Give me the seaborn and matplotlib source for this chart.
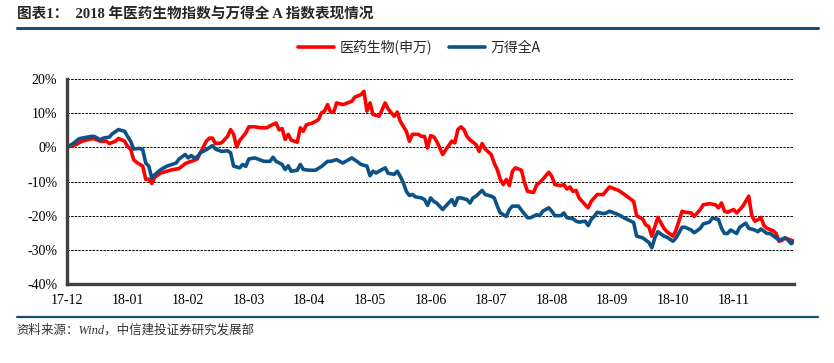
import matplotlib
matplotlib.use("Agg")
import matplotlib.pyplot as plt
import matplotlib.lines as mlines
import seaborn as sns
import pandas as pd

# trading-day index since 2017-12-29 and cumulative return (%)
red_day = [0, 3, 5, 8, 9, 11, 13, 14, 16, 17, 19, 20, 21, 22, 23, 25, 26, 27, 28, 29, 31, 33, 35, 37, 38, 39, 40,
           42, 43, 44, 46, 47, 48, 49, 51, 53, 54, 55, 56, 57, 59, 60, 62, 64, 66, 67, 69, 70, 71, 72, 73, 74, 76,
           77, 78, 79, 81, 83, 84, 85, 86, 87, 88, 89, 91, 92, 94, 95, 97, 98, 99, 100, 101, 103, 104, 105, 106,
           108, 109, 110, 112, 113, 114, 116, 117, 118, 119, 120, 121, 122, 124, 125, 127, 128, 129, 130, 131,
           132, 133, 135, 136, 137, 138, 140, 141, 142, 143, 144, 145, 146, 147, 148, 150, 151, 152, 154, 155,
           156, 157, 159, 160, 161, 163, 164, 165, 166, 167, 168, 169, 171, 172, 173, 174, 175, 177, 179, 182,
           184, 187, 188, 190, 191, 192, 193, 194, 195, 197, 198, 200, 201, 203, 204, 206, 207, 209, 210, 212,
           214, 215, 216, 217, 218, 220, 221, 223, 225, 226, 227, 228, 229, 230, 231, 233, 234, 235, 236, 237,
           239, 240]
red_ret = [0, 0.8, 1.8, 2.5, 2.5, 1.8, 1.8, 1.1, 1.8, 2.6, 1.8, 0.3, -0.5, -3.6, -4.4, -5.5, -9.4, -9.3, -10.6,
           -8.7, -7.5, -7.0, -6.5, -6.2, -5.5, -4.8, -4.4, -3.8, -3.4, -1.6, 1.8, 2.7, 2.7, 1.1, 1.3, 3.2, 5.2,
           3.8, 0.1, 2.0, 4.2, 6.0, 6.0, 5.7, 5.7, 6.3, 7.1, 5.1, 5.5, 2.3, 3.8, 2.1, 1.5, 5.7, 4.7, 6.6, 7.1,
           8.1, 10.1, 10.6, 12.5, 10.3, 10.3, 13.0, 12.5, 12.8, 13.5, 14.7, 15.4, 16.4, 10.6, 13.0, 9.6, 9.1,
           11.0, 13.0, 11.2, 9.1, 10.3, 7.6, 4.7, 1.8, 3.8, 3.8, 3.2, 3.2, -0.2, 3.4, 3.1, 1.8, -2.1, -0.7, 1.8,
           1.3, 5.2, 6.0, 5.2, 3.2, 2.2, 0.8, -1.2, 1.1, -0.5, -2.1, -4.6, -6.5, -9.4, -10.9, -9.4, -11.2, -7.0,
           -6.0, -6.7, -10.4, -12.9, -13.2, -11.0, -10.3, -9.4, -7.3, -8.5, -10.9, -11.2, -10.9, -12.2, -11.6,
           -12.9, -12.6, -14.8, -16.8, -17.7, -15.8, -14.8, -13.8, -13.8, -11.6, -12.6, -13.8, -15.8, -20.0,
           -21.0, -22.7, -23.2, -26.0, -23.2, -20.5, -23.7, -24.7, -26.0, -24.2, -18.7, -19.0, -19.2, -20.2,
           -18.2, -16.8, -16.5, -16.8, -17.7, -16.3, -18.7, -19.0, -18.2, -19.2, -17.3, -14.3, -20.0, -21.6,
           -21.2, -20.5, -22.9, -23.7, -24.4, -25.2, -27.5, -27.2, -26.5, -27.2, -27.5]

blue_day = [0, 2, 4, 5, 8, 9, 11, 12, 14, 15, 17, 19, 20, 21, 22, 24, 25, 26, 27, 28, 29, 31, 33, 36, 37, 39, 40,
            41, 42, 43, 44, 46, 48, 49, 51, 53, 54, 55, 57, 58, 59, 60, 62, 65, 67, 68, 69, 71, 72, 73, 74, 76,
            77, 78, 80, 82, 84, 86, 87, 89, 90, 91, 93, 94, 96, 97, 99, 100, 101, 102, 104, 105, 106, 108, 109,
            110, 111, 112, 113, 114, 115, 117, 118, 119, 120, 121, 122, 124, 125, 127, 128, 129, 130, 132, 133,
            134, 135, 137, 138, 140, 141, 142, 143, 145, 146, 147, 149, 150, 152, 153, 155, 156, 157, 159, 160,
            161, 163, 164, 165, 167, 168, 169, 171, 172, 173, 174, 175, 177, 178, 179, 182, 184, 187, 188, 190,
            192, 193, 194, 195, 197, 198, 200, 201, 203, 204, 206, 207, 209, 210, 212, 213, 215, 216, 217, 218,
            219, 221, 222, 224, 225, 227, 228, 229, 231, 232, 234, 235, 237, 238, 239, 240]
blue_ret = [0, 1.1, 2.5, 2.7, 3.2, 3.2, 2.2, 2.7, 3.0, 4.0, 5.2, 4.7, 3.2, 1.8, -0.5, -0.3, -0.7, -4.6, -5.5,
            -9.0, -8.0, -6.5, -5.5, -4.6, -3.4, -2.1, -3.1, -2.4, -3.1, -2.8, -1.6, -0.7, 0.5, -0.5, -1.2, -1.0,
            -1.6, -5.5, -6.0, -5.0, -5.6, -3.4, -3.1, -4.1, -4.1, -2.9, -4.1, -5.0, -6.5, -5.4, -7.0, -6.7, -5.0,
            -6.5, -6.7, -6.7, -5.6, -4.1, -4.1, -3.6, -4.1, -4.6, -3.6, -3.1, -4.3, -5.0, -5.5, -8.3, -7.0, -7.5,
            -6.5, -6.0, -7.6, -7.9, -7.0, -8.5, -10.4, -12.9, -14.1, -13.8, -14.5, -14.8, -15.3, -17.0, -14.8,
            -15.8, -16.3, -18.2, -17.2, -15.3, -17.0, -14.8, -14.8, -15.3, -16.3, -14.8, -14.3, -12.6, -13.8,
            -14.3, -14.8, -17.2, -19.2, -20.2, -18.2, -17.2, -17.2, -18.4, -20.6, -20.6, -19.7, -20.0, -18.7,
            -17.7, -18.7, -20.0, -20.0, -19.2, -20.6, -20.9, -21.6, -21.9, -21.6, -22.9, -21.1, -20.2, -19.0,
            -19.4, -19.2, -18.7, -19.7, -20.7, -22.0, -26.0, -26.5, -27.8, -29.4, -26.5, -24.7, -26.0, -26.3,
            -27.5, -26.5, -23.4, -23.4, -24.2, -25.0, -23.7, -22.4, -21.9, -20.7, -21.1, -23.7, -25.2, -25.2,
            -24.2, -25.2, -23.4, -22.2, -23.7, -24.2, -24.7, -23.9, -25.2, -25.2, -26.5, -27.2, -26.5, -27.2,
            -28.2, -27.5]

series_names = ["医药生物(申万)", "万得全A"]
tick_days = [0, 20, 40, 60, 80, 100, 120, 140, 160, 180, 200, 220]
tick_labels = ["17-12", "18-01", "18-02", "18-03", "18-04", "18-05", "18-06",
               "18-07", "18-08", "18-09", "18-10", "18-11"]

df = pd.concat([
    pd.DataFrame({"day": red_day, "ret": red_ret, "series": series_names[0]}),
    pd.DataFrame({"day": blue_day, "ret": blue_ret, "series": series_names[1]}),
])

sns.set_style("white")
plt.rcParams["font.family"] = ["Liberation Serif", "Noto Sans CJK SC", "DejaVu Sans"]

navy = "#174f7c"
fig = plt.figure(figsize=(8.34, 3.63), dpi=100)
ax = fig.add_axes([0.0803, 0.2176, 0.872, 0.5648])

sns.lineplot(data=df, x="day", y="ret", hue="series", hue_order=series_names,
             palette=["#ff0000", "#0d5286"], linewidth=2.6, estimator=None,
             sort=False, ax=ax)
ax.get_legend().remove()

ax.set_xlim(0, 240)
ax.set_ylim(-40, 20)
ax.set_yticks([-40, -30, -20, -10, 0, 10, 20])
ax.set_yticklabels([f"{v}%" for v in [-40, -30, -20, -10, 0, 10, 20]], fontsize=10)
ax.set_xticks(tick_days)
ax.set_xticklabels(tick_labels, fontsize=10)
ax.set_xlabel("")
ax.set_ylabel("")
ax.yaxis.grid(True, color="black", linestyle=(0, (2.5, 1.2)), linewidth=0.7)
ax.xaxis.grid(False)
ax.set_axisbelow(True)
for side in ["top", "right"]:
    ax.spines[side].set_visible(False)
for side in ["left", "bottom"]:
    ax.spines[side].set_color("#404040")
    ax.spines[side].set_linewidth(2.4)
ax.tick_params(axis="both", direction="out", length=3, width=1.5, color="#404040",
               labelcolor="black", pad=4)

handles = [mlines.Line2D([], [], color="#ff0000", lw=2.6),
           mlines.Line2D([], [], color="#0d5286", lw=2.6)]
fig.legend(handles, series_names, loc="center", bbox_to_anchor=(0.503, 0.87), ncol=2,
           frameon=False, prop={"family": ["Noto Sans CJK SC"], "size": 10},
           handlelength=2.6, columnspacing=1.2, handletextpad=0.4)

fig.text(0.02, 0.961, "图表1：  2018 年医药生物指数与万得全 A 指数表现情况",
         fontsize=10.5, fontweight="bold", va="center", ha="left",
         family=["Liberation Serif", "Noto Sans CJK SC"])
fig.add_artist(mlines.Line2D([0.02, 0.981], [0.923, 0.923], color=navy, lw=2.2))
fig.add_artist(mlines.Line2D([0.02, 0.981], [0.127, 0.127], color=navy, lw=1.6))
fig.text(0.02, 0.091, "资料来源：Wind，中信建投证券研究发展部", fontsize=9, style="italic",
         va="center", ha="left", color="#333333",
         family=["Liberation Serif", "Noto Sans CJK SC"])

fig.savefig("out.png", dpi=100)
